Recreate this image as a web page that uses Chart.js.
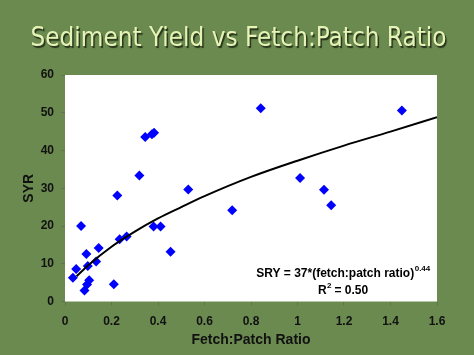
<!DOCTYPE html>
<html><head><meta charset="utf-8">
<script src="https://cdn.jsdelivr.net/npm/chart.js@4/dist/chart.umd.min.js"></script>
<style>html,body{margin:0;padding:0;background:#6b8a50;overflow:hidden}#wrap{width:474px;height:355px}</style>
</head><body><div id="wrap"><canvas id="c" width="474" height="355"></canvas></div>
<script>
const fetchPatch = [0.034,0.048,0.069,0.084,0.092,0.095,0.098,0.104,0.134,0.145,0.21,0.225,0.235,0.265,0.32,0.345,0.374,0.383,0.381,0.411,0.454,0.53,0.719,0.842,1.011,1.114,1.145,1.449];
const syrValues = [6.3,8.6,20.0,2.9,12.6,4.5,9.4,5.6,10.6,14.2,4.6,28.1,16.5,17.2,33.4,43.6,44.3,44.7,19.9,19.9,13.2,29.7,24.2,51.2,32.7,29.6,25.5,50.6];
const trendX = [0.05,0.1,0.2,0.3,0.4,0.5,0.6,0.8,1.0,1.2,1.4,1.6];
const trendY = [6.7,9.6,14.5,18.5,22.0,25.0,27.9,33.0,37.3,41.3,45.0,48.8];
const xTicks = [0,0.2,0.4,0.6,0.8,1.0,1.2,1.4,1.6];
const yTicks = [0,10,20,30,40,50,60];
const titleText = 'Sediment Yield vs Fetch:Patch Ratio';
const xTitle = 'Fetch:Patch Ratio';
const yTitle = 'SYR';
const eqMain = 'SRY = 37*(fetch:patch ratio)';
const eqExp = '0.44';
const r2Main = 'R';
const r2Sup = '2';
const r2Rest = ' = 0.50';

const bgPlugin = {
  id: 'bg',
  beforeDraw(chart) {
    const ctx = chart.ctx, ca = chart.chartArea;
    ctx.save();
    ctx.fillStyle = '#6b8a50';
    ctx.fillRect(0, 0, chart.width, chart.height);
    ctx.fillStyle = '#ffffff';
    ctx.fillRect(ca.left, ca.top, ca.right - ca.left, ca.bottom - ca.top);
    ctx.font = '27px "DejaVu Sans Condensed", "DejaVu Sans", sans-serif';
    ctx.textBaseline = 'alphabetic';
    ctx.textAlign = 'left';
    const w = ctx.measureText(titleText).width;
    const s = 416 / w;
    ctx.translate(30.5, 46);
    ctx.scale(s, 1);
    ctx.shadowColor = 'rgba(25,35,15,0.85)';
    ctx.shadowOffsetX = 1.5;
    ctx.shadowOffsetY = 1.5;
    ctx.shadowBlur = 1;
    ctx.fillStyle = '#e6f3b6';
    ctx.fillText(titleText, 0, 0);
    ctx.restore();
  },
  afterDatasetsDraw(chart) {
    const ctx = chart.ctx, ca = chart.chartArea;
    ctx.save();
    ctx.fillStyle = '#000000';
    ctx.textBaseline = 'middle';
    ctx.textAlign = 'left';
    const big = 'bold 12px "Liberation Sans", Arial, sans-serif';
    const small = 'bold 8px "Liberation Sans", Arial, sans-serif';
    const cx = ca.right - 94;
    ctx.font = big;
    const wMain = ctx.measureText(eqMain).width;
    ctx.font = small;
    const wExp = ctx.measureText(eqExp).width;
    const x0 = cx - (wMain + wExp) / 2;
    const y1 = ca.bottom - 28;
    ctx.font = big;
    ctx.fillText(eqMain, x0, y1);
    ctx.font = small;
    ctx.fillText(eqExp, x0 + wMain + 0.5, y1 - 5);
    ctx.font = big;
    const wR = ctx.measureText(r2Main).width;
    const wRest = ctx.measureText(r2Rest).width;
    ctx.font = small;
    const wS = ctx.measureText(r2Sup).width;
    const x1 = cx - (wR + wS + wRest) / 2;
    const y2 = ca.bottom - 11;
    ctx.font = big;
    ctx.fillText(r2Main, x1, y2);
    ctx.font = small;
    ctx.fillText(r2Sup, x1 + wR + 0.5, y2 - 5);
    ctx.font = big;
    ctx.fillText(r2Rest, x1 + wR + wS, y2);
    ctx.restore();
  }
};

const tickFont = { family: '"Liberation Sans", Arial, sans-serif', size: 12, weight: 'bold' };
const titleFont = { family: '"Liberation Sans", Arial, sans-serif', size: 14, weight: 'bold' };

new Chart(document.getElementById('c'), {
  data: {
    datasets: [
      {
        type: 'line',
        data: trendX.map((x, i) => ({ x: x, y: trendY[i] })),
        borderColor: '#000000',
        borderWidth: 2,
        pointRadius: 0,
        cubicInterpolationMode: 'monotone',
        fill: false,
        order: 0
      },
      {
        type: 'scatter',
        data: fetchPatch.map((x, i) => ({ x: x, y: syrValues[i] })),
        pointStyle: 'rectRot',
        pointRadius: 5,
        pointBackgroundColor: '#0000ff',
        pointBorderColor: '#0000ff',
        pointBorderWidth: 0,
        order: 1
      }
    ]
  },
  options: {
    responsive: false,
    devicePixelRatio: 1,
    animation: false,
    layout: { padding: { left: 0, right: 37, top: 75, bottom: 0 } },
    plugins: { legend: { display: false }, title: { display: false }, tooltip: { enabled: false } },
    scales: {
      x: {
        type: 'linear', min: 0, max: 1.6,
        afterBuildTicks: s => { s.ticks = xTicks.map(v => ({ value: v })); },
        afterFit: s => { s.height = 53.5; },
        border: { display: false },
        grid: { drawOnChartArea: false, drawTicks: true, tickLength: 4, color: 'rgba(90,100,80,0.6)' },
        ticks: { font: tickFont, color: '#111111', padding: 9, maxRotation: 0,
                 callback: v => String(Math.round(v * 10) / 10) },
        title: { display: true, text: xTitle, font: titleFont, color: '#111111', padding: { top: 0, bottom: 6.6 } }
      },
      y: {
        type: 'linear', min: 0, max: 60,
        afterBuildTicks: s => { s.ticks = yTicks.map(v => ({ value: v })); },
        afterFit: s => { s.width = 65; },
        border: { display: false },
        grid: { drawOnChartArea: false, drawTicks: true, tickLength: 4, color: 'rgba(90,100,80,0.6)' },
        ticks: { font: tickFont, color: '#111111', padding: 7 },
        title: { display: true, text: yTitle, font: titleFont, color: '#111111', padding: { top: 20.6, bottom: 0 } }
      }
    }
  },
  plugins: [bgPlugin]
});
</script></body></html>
